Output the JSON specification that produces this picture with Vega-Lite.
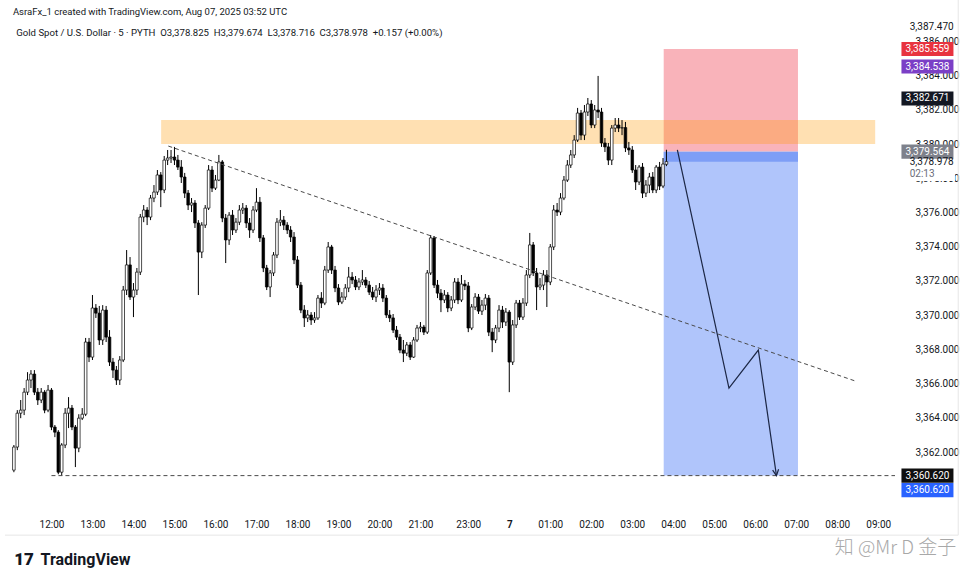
{
  "$schema": "https://vega.github.io/schema/vega-lite/v6.json",
  "width": 900,
  "height": 510,
  "autosize": {"type": "none"},
  "padding": {"left": 0, "top": 0, "right": 72, "bottom": 73},
  "background": "white",
  "config": {"view": {"stroke": null}, "font": "Roboto"},
  "resolve": {"scale": {"fill": "independent", "color": "independent"}},
  "datasets": {
    "zones": [
      {"x": 179.2, "x2": 218.5, "y": 3385.559, "y2": 3379.564, "kind": "stop"},
      {"x": 179.2, "x2": 218.5, "y": 3379.564, "y2": 3360.62, "kind": "target"},
      {"x": 179.2, "x2": 218.5, "y": 3379.564, "y2": 3378.978, "kind": "open"},
      {"x": 32.1, "x2": 241.1, "y": 3381.41, "y2": 3380.01, "kind": "zone"}
    ],
    "candles": [
{"i":-11,"o":3360.94,"h":3362.41,"l":3360.82,"c":3362.29},
{"i":-10,"o":3362.29,"h":3364.45,"l":3362.11,"c":3364.27},
{"i":-9,"o":3364.27,"h":3365.04,"l":3363.98,"c":3364.45},
{"i":-8,"o":3364.45,"h":3365.74,"l":3364.16,"c":3365.50},
{"i":-7,"o":3365.50,"h":3366.67,"l":3365.33,"c":3366.21},
{"i":-6,"o":3366.21,"h":3366.79,"l":3365.74,"c":3366.56},
{"i":-5,"o":3366.56,"h":3366.79,"l":3365.33,"c":3365.50},
{"i":-4,"o":3365.50,"h":3365.74,"l":3364.75,"c":3365.04},
{"i":-3,"o":3365.04,"h":3365.74,"l":3364.86,"c":3365.50},
{"i":-2,"o":3365.50,"h":3365.62,"l":3364.27,"c":3364.45},
{"i":-1,"o":3364.45,"h":3365.92,"l":3364.33,"c":3365.62},
{"i":0,"o":3365.62,"h":3365.74,"l":3363.28,"c":3363.46},
{"i":1,"o":3363.46,"h":3363.58,"l":3362.87,"c":3363.16},
{"i":2,"o":3363.16,"h":3363.28,"l":3360.70,"c":3360.82},
{"i":3,"o":3360.82,"h":3362.52,"l":3360.62,"c":3362.41},
{"i":4,"o":3362.41,"h":3364.57,"l":3362.23,"c":3364.27},
{"i":5,"o":3364.27,"h":3365.21,"l":3363.40,"c":3364.57},
{"i":6,"o":3364.57,"h":3364.75,"l":3363.28,"c":3363.46},
{"i":7,"o":3363.46,"h":3363.58,"l":3361.12,"c":3362.23},
{"i":8,"o":3362.23,"h":3364.21,"l":3361.99,"c":3363.98},
{"i":9,"o":3363.98,"h":3364.57,"l":3363.87,"c":3364.21},
{"i":10,"o":3364.21,"h":3368.67,"l":3364.10,"c":3368.43},
{"i":11,"o":3368.43,"h":3368.67,"l":3367.26,"c":3367.55},
{"i":12,"o":3367.55,"h":3371.18,"l":3367.38,"c":3370.42},
{"i":13,"o":3370.42,"h":3370.65,"l":3369.84,"c":3370.12},
{"i":14,"o":3370.12,"h":3370.54,"l":3368.26,"c":3368.55},
{"i":15,"o":3368.55,"h":3370.59,"l":3368.26,"c":3370.30},
{"i":16,"o":3370.30,"h":3370.54,"l":3368.43,"c":3368.72},
{"i":17,"o":3368.72,"h":3369.13,"l":3367.03,"c":3367.26},
{"i":18,"o":3367.26,"h":3367.50,"l":3366.33,"c":3366.79},
{"i":19,"o":3366.79,"h":3367.03,"l":3365.92,"c":3366.21},
{"i":20,"o":3366.21,"h":3367.61,"l":3365.92,"c":3367.38},
{"i":21,"o":3367.38,"h":3371.71,"l":3367.26,"c":3371.47},
{"i":22,"o":3371.47,"h":3373.81,"l":3371.18,"c":3372.94},
{"i":23,"o":3372.94,"h":3373.40,"l":3370.89,"c":3371.06},
{"i":24,"o":3371.06,"h":3371.88,"l":3369.89,"c":3371.47},
{"i":25,"o":3371.47,"h":3372.76,"l":3371.18,"c":3372.52},
{"i":26,"o":3372.52,"h":3375.92,"l":3372.35,"c":3375.74},
{"i":27,"o":3375.74,"h":3376.44,"l":3375.44,"c":3376.15},
{"i":28,"o":3376.15,"h":3376.32,"l":3375.27,"c":3375.74},
{"i":29,"o":3375.74,"h":3377.03,"l":3375.56,"c":3376.85},
{"i":30,"o":3376.85,"h":3377.61,"l":3376.61,"c":3377.20},
{"i":31,"o":3377.20,"h":3378.49,"l":3377.03,"c":3378.20},
{"i":32,"o":3378.20,"h":3378.37,"l":3376.32,"c":3377.32},
{"i":33,"o":3377.32,"h":3379.31,"l":3377.14,"c":3379.07},
{"i":34,"o":3379.07,"h":3379.66,"l":3378.78,"c":3379.19},
{"i":35,"o":3379.19,"h":3379.66,"l":3378.90,"c":3379.25},
{"i":36,"o":3379.25,"h":3379.84,"l":3378.78,"c":3379.07},
{"i":37,"o":3379.07,"h":3379.37,"l":3378.49,"c":3378.66},
{"i":38,"o":3378.66,"h":3379.07,"l":3377.73,"c":3378.08},
{"i":39,"o":3378.08,"h":3378.32,"l":3376.85,"c":3377.14},
{"i":40,"o":3377.14,"h":3377.32,"l":3376.15,"c":3376.44},
{"i":41,"o":3376.44,"h":3376.85,"l":3376.03,"c":3376.56},
{"i":42,"o":3376.56,"h":3376.73,"l":3375.10,"c":3375.39},
{"i":43,"o":3375.39,"h":3375.56,"l":3371.18,"c":3373.69},
{"i":44,"o":3373.69,"h":3375.44,"l":3373.34,"c":3375.27},
{"i":45,"o":3375.27,"h":3376.44,"l":3375.10,"c":3376.26},
{"i":46,"o":3376.26,"h":3378.78,"l":3376.15,"c":3378.49},
{"i":47,"o":3378.49,"h":3378.72,"l":3377.20,"c":3377.43},
{"i":48,"o":3377.43,"h":3378.20,"l":3377.32,"c":3377.90},
{"i":49,"o":3377.90,"h":3379.37,"l":3377.84,"c":3378.96},
{"i":50,"o":3378.96,"h":3379.07,"l":3375.44,"c":3375.68},
{"i":51,"o":3375.68,"h":3375.92,"l":3373.05,"c":3374.40},
{"i":52,"o":3374.40,"h":3376.03,"l":3374.11,"c":3375.85},
{"i":53,"o":3375.85,"h":3376.15,"l":3374.69,"c":3374.98},
{"i":54,"o":3374.98,"h":3375.68,"l":3374.81,"c":3375.44},
{"i":55,"o":3375.44,"h":3376.44,"l":3375.27,"c":3376.15},
{"i":56,"o":3376.15,"h":3376.56,"l":3375.92,"c":3376.26},
{"i":57,"o":3376.26,"h":3376.44,"l":3375.10,"c":3375.39},
{"i":58,"o":3375.39,"h":3375.68,"l":3374.52,"c":3374.98},
{"i":59,"o":3374.98,"h":3376.38,"l":3374.81,"c":3376.15},
{"i":60,"o":3376.15,"h":3377.43,"l":3376.03,"c":3376.61},
{"i":61,"o":3376.61,"h":3376.91,"l":3374.28,"c":3374.52},
{"i":62,"o":3374.52,"h":3374.69,"l":3372.52,"c":3372.76},
{"i":63,"o":3372.76,"h":3372.94,"l":3371.47,"c":3371.65},
{"i":64,"o":3371.65,"h":3372.64,"l":3371.06,"c":3372.47},
{"i":65,"o":3372.47,"h":3373.69,"l":3372.29,"c":3373.52},
{"i":66,"o":3373.52,"h":3375.68,"l":3373.34,"c":3375.44},
{"i":67,"o":3375.44,"h":3376.15,"l":3375.21,"c":3375.56},
{"i":68,"o":3375.56,"h":3375.80,"l":3374.98,"c":3375.27},
{"i":69,"o":3375.27,"h":3375.44,"l":3374.75,"c":3374.98},
{"i":70,"o":3374.98,"h":3375.21,"l":3374.28,"c":3374.57},
{"i":71,"o":3374.57,"h":3374.86,"l":3372.99,"c":3373.23},
{"i":72,"o":3373.23,"h":3373.46,"l":3371.59,"c":3371.76},
{"i":73,"o":3371.76,"h":3371.94,"l":3370.12,"c":3370.30},
{"i":74,"o":3370.30,"h":3370.59,"l":3369.31,"c":3369.84},
{"i":75,"o":3369.84,"h":3370.30,"l":3369.60,"c":3370.01},
{"i":76,"o":3370.01,"h":3370.18,"l":3369.43,"c":3369.72},
{"i":77,"o":3369.72,"h":3370.18,"l":3369.55,"c":3369.84},
{"i":78,"o":3369.84,"h":3371.18,"l":3369.72,"c":3371.00},
{"i":79,"o":3371.00,"h":3371.35,"l":3370.42,"c":3370.71},
{"i":80,"o":3370.71,"h":3372.88,"l":3370.59,"c":3372.64},
{"i":81,"o":3372.64,"h":3374.28,"l":3372.47,"c":3373.99},
{"i":82,"o":3373.99,"h":3374.11,"l":3372.41,"c":3372.64},
{"i":83,"o":3372.64,"h":3372.88,"l":3371.35,"c":3371.59},
{"i":84,"o":3371.59,"h":3371.82,"l":3370.59,"c":3370.77},
{"i":85,"o":3370.77,"h":3371.35,"l":3370.65,"c":3371.06},
{"i":86,"o":3371.06,"h":3371.82,"l":3370.89,"c":3371.59},
{"i":87,"o":3371.59,"h":3372.82,"l":3371.35,"c":3372.23},
{"i":88,"o":3372.23,"h":3372.52,"l":3371.82,"c":3372.06},
{"i":89,"o":3372.06,"h":3372.29,"l":3371.47,"c":3371.65},
{"i":90,"o":3371.65,"h":3372.17,"l":3371.47,"c":3371.94},
{"i":91,"o":3371.94,"h":3372.64,"l":3371.76,"c":3372.06},
{"i":92,"o":3372.06,"h":3372.23,"l":3371.59,"c":3371.76},
{"i":93,"o":3371.76,"h":3372.00,"l":3371.18,"c":3371.35},
{"i":94,"o":3371.35,"h":3371.65,"l":3370.89,"c":3371.06},
{"i":95,"o":3371.06,"h":3371.76,"l":3370.77,"c":3371.47},
{"i":96,"o":3371.47,"h":3371.88,"l":3371.18,"c":3371.59},
{"i":97,"o":3371.59,"h":3371.82,"l":3370.77,"c":3371.00},
{"i":98,"o":3371.00,"h":3371.18,"l":3369.84,"c":3370.01},
{"i":99,"o":3370.01,"h":3370.30,"l":3369.60,"c":3369.84},
{"i":100,"o":3369.84,"h":3370.07,"l":3368.96,"c":3369.13},
{"i":101,"o":3369.13,"h":3369.37,"l":3368.55,"c":3368.72},
{"i":102,"o":3368.72,"h":3368.90,"l":3367.78,"c":3367.96},
{"i":103,"o":3367.96,"h":3368.55,"l":3367.26,"c":3367.78},
{"i":104,"o":3367.78,"h":3368.43,"l":3367.61,"c":3368.26},
{"i":105,"o":3368.26,"h":3368.43,"l":3367.38,"c":3367.55},
{"i":106,"o":3367.55,"h":3368.72,"l":3367.50,"c":3368.55},
{"i":107,"o":3368.55,"h":3369.43,"l":3368.43,"c":3369.25},
{"i":108,"o":3369.25,"h":3369.60,"l":3369.01,"c":3369.31},
{"i":109,"o":3369.31,"h":3369.43,"l":3368.84,"c":3369.01},
{"i":110,"o":3369.01,"h":3372.64,"l":3368.90,"c":3372.47},
{"i":111,"o":3372.47,"h":3374.69,"l":3372.35,"c":3374.52},
{"i":112,"o":3374.52,"h":3374.63,"l":3371.59,"c":3371.76},
{"i":113,"o":3371.76,"h":3372.06,"l":3371.00,"c":3371.29},
{"i":114,"o":3371.29,"h":3371.53,"l":3370.18,"c":3370.89},
{"i":115,"o":3370.89,"h":3371.47,"l":3370.71,"c":3371.18},
{"i":116,"o":3371.18,"h":3371.35,"l":3370.18,"c":3370.42},
{"i":117,"o":3370.42,"h":3371.12,"l":3370.24,"c":3370.89},
{"i":118,"o":3370.89,"h":3372.17,"l":3370.71,"c":3371.94},
{"i":119,"o":3371.94,"h":3372.17,"l":3370.65,"c":3370.89},
{"i":120,"o":3370.89,"h":3372.35,"l":3370.77,"c":3371.82},
{"i":121,"o":3371.82,"h":3372.06,"l":3371.47,"c":3371.71},
{"i":122,"o":3371.71,"h":3371.94,"l":3369.01,"c":3369.25},
{"i":123,"o":3369.25,"h":3370.65,"l":3369.13,"c":3370.48},
{"i":124,"o":3370.48,"h":3371.29,"l":3370.30,"c":3371.06},
{"i":125,"o":3371.06,"h":3371.24,"l":3370.07,"c":3370.24},
{"i":126,"o":3370.24,"h":3370.89,"l":3370.01,"c":3370.59},
{"i":127,"o":3370.59,"h":3371.24,"l":3370.30,"c":3371.00},
{"i":128,"o":3371.00,"h":3371.18,"l":3368.78,"c":3369.01},
{"i":129,"o":3369.01,"h":3369.25,"l":3367.84,"c":3368.55},
{"i":130,"o":3368.55,"h":3369.43,"l":3368.37,"c":3369.25},
{"i":131,"o":3369.25,"h":3370.59,"l":3369.01,"c":3370.30},
{"i":132,"o":3370.30,"h":3370.54,"l":3369.25,"c":3369.60},
{"i":133,"o":3369.60,"h":3370.42,"l":3369.37,"c":3370.18},
{"i":134,"o":3370.18,"h":3370.30,"l":3365.50,"c":3367.26},
{"i":135,"o":3367.26,"h":3369.72,"l":3367.09,"c":3369.43},
{"i":136,"o":3369.43,"h":3370.89,"l":3369.25,"c":3370.71},
{"i":137,"o":3370.71,"h":3370.89,"l":3369.72,"c":3369.89},
{"i":138,"o":3369.89,"h":3371.00,"l":3369.72,"c":3370.71},
{"i":139,"o":3370.71,"h":3372.64,"l":3370.54,"c":3372.35},
{"i":140,"o":3372.35,"h":3374.81,"l":3372.17,"c":3374.11},
{"i":141,"o":3374.11,"h":3374.28,"l":3372.29,"c":3372.47},
{"i":142,"o":3372.47,"h":3372.76,"l":3370.30,"c":3371.65},
{"i":143,"o":3371.65,"h":3372.17,"l":3371.47,"c":3371.76},
{"i":144,"o":3371.76,"h":3372.64,"l":3371.47,"c":3372.35},
{"i":145,"o":3372.35,"h":3372.64,"l":3370.48,"c":3371.94},
{"i":146,"o":3371.94,"h":3374.16,"l":3371.76,"c":3373.99},
{"i":147,"o":3373.99,"h":3376.44,"l":3373.81,"c":3376.15},
{"i":148,"o":3376.15,"h":3376.56,"l":3375.80,"c":3376.03},
{"i":149,"o":3376.03,"h":3377.14,"l":3375.85,"c":3376.85},
{"i":150,"o":3376.85,"h":3378.14,"l":3376.73,"c":3377.90},
{"i":151,"o":3377.90,"h":3379.07,"l":3377.79,"c":3378.78},
{"i":152,"o":3378.78,"h":3379.66,"l":3378.61,"c":3379.37},
{"i":153,"o":3379.37,"h":3380.53,"l":3379.19,"c":3380.24},
{"i":154,"o":3380.24,"h":3382.12,"l":3380.13,"c":3381.82},
{"i":155,"o":3381.82,"h":3382.00,"l":3380.24,"c":3380.53},
{"i":156,"o":3380.53,"h":3382.29,"l":3380.24,"c":3381.88},
{"i":157,"o":3381.88,"h":3382.70,"l":3381.65,"c":3382.35},
{"i":158,"o":3382.35,"h":3382.58,"l":3380.94,"c":3381.12},
{"i":159,"o":3381.12,"h":3382.29,"l":3380.94,"c":3382.00},
{"i":160,"o":3382.00,"h":3383.99,"l":3381.53,"c":3381.88},
{"i":161,"o":3381.88,"h":3382.12,"l":3379.84,"c":3380.07},
{"i":162,"o":3380.07,"h":3380.36,"l":3379.54,"c":3379.84},
{"i":163,"o":3379.84,"h":3380.07,"l":3378.78,"c":3379.07},
{"i":164,"o":3379.07,"h":3381.12,"l":3378.78,"c":3380.94},
{"i":165,"o":3380.94,"h":3381.53,"l":3380.71,"c":3381.12},
{"i":166,"o":3381.12,"h":3381.53,"l":3380.71,"c":3380.94},
{"i":167,"o":3380.94,"h":3381.41,"l":3380.53,"c":3380.97},
{"i":168,"o":3380.97,"h":3381.30,"l":3379.54,"c":3379.78},
{"i":169,"o":3379.78,"h":3380.13,"l":3379.37,"c":3379.66},
{"i":170,"o":3379.66,"h":3379.89,"l":3378.32,"c":3378.49},
{"i":171,"o":3378.49,"h":3378.78,"l":3377.32,"c":3377.79},
{"i":172,"o":3377.79,"h":3378.78,"l":3377.61,"c":3378.66},
{"i":173,"o":3378.66,"h":3378.90,"l":3376.85,"c":3377.14},
{"i":174,"o":3377.14,"h":3377.90,"l":3376.91,"c":3377.61},
{"i":175,"o":3377.61,"h":3378.32,"l":3377.14,"c":3378.08},
{"i":176,"o":3378.08,"h":3378.37,"l":3377.14,"c":3377.32},
{"i":177,"o":3377.32,"h":3378.78,"l":3377.14,"c":3378.66},
{"i":178,"o":3378.66,"h":3378.96,"l":3377.32,"c":3377.55},
{"i":179,"o":3377.55,"h":3379.19,"l":3377.43,"c":3378.84},
{"i":180,"o":3378.825,"h":3379.674,"l":3378.716,"c":3378.978}
    ],
    "lines": [
      {"x": 34.2, "y": 3379.89, "x2": 235.3, "y2": 3366.15, "kind": "trend"},
      {"x": 0, "y": 3360.62, "x2": 246.9, "y2": 3360.62, "kind": "level"}
    ],
    "frame": [
      {"x": -13.6, "y": 3357.14, "x2": 265.4, "y2": 3357.14},
      {"x": 265.4, "y": 3388.43, "x2": 265.4, "y2": 3357.14}
    ],
    "arrow": [
      {"o": 0, "x": 183.2, "y": 3379.66},
      {"o": 1, "x": 198.3, "y": 3365.74},
      {"o": 2, "x": 206.9, "y": 3367.96},
      {"o": 3, "x": 212.2, "y": 3360.62}
    ],
    "boxes": [
      {"p": 3385.559, "t": "3,385.559", "k": "stop"},
      {"p": 3384.538, "t": "3,384.538", "k": "purple"},
      {"p": 3382.671, "t": "3,382.671", "k": "dark"},
      {"p": 3379.564, "t": "3,379.564", "k": "entry"},
      {"p": 3360.62, "t": "3,360.620", "k": "dark2"}
    ]
  },
  "layer": [
    {
      "data": {"name": "zones"},
      "mark": {"type": "rect"},
      "encoding": {
        "x": {"field": "x", "type": "quantitative", "title": null,
          "scale": {"domain": [-13.6, 246.9], "nice": false, "zero": false},
          "axis": {"values": [0, 12, 24, 36, 48, 60, 72, 84, 96, 108, 122, 134, 146, 158, 170, 182, 194, 206, 218, 230, 242],
            "labelExpr": "['12:00','13:00','14:00','15:00','16:00','17:00','18:00','19:00','20:00','21:00','23:00','7','01:00','02:00','03:00','04:00','05:00','06:00','07:00','08:00','09:00'][indexof([0,12,24,36,48,60,72,84,96,108,122,134,146,158,170,182,194,206,218,230,242], datum.value)]",
            "labelFontWeight": {"expr": "datum.value == 134 ? 'bold' : 'normal'"},
            "ticks": false, "domain": false, "grid": false, "labelFlush": false, "labelOverlap": false,
            "labelPadding": 9, "labelFontSize": 10, "labelColor": "#131722", "labelFont": "Roboto"}},
        "x2": {"field": "x2"},
        "y": {"field": "y", "type": "quantitative", "title": null,
          "scale": {"domain": [3358.61, 3388.43], "nice": false, "zero": false},
          "axis": {"orient": "right", "values": [3362, 3364, 3366, 3368, 3370, 3372, 3374, 3376, 3378, 3380, 3382, 3384, 3386],
            "format": ",.3f", "labelAlign": "left", "labelPadding": 15, "ticks": false, "domain": false, "grid": false,
            "labelFontSize": 10, "labelColor": "#131722", "labelFont": "Roboto", "labelOverlap": false, "labelBound": false}},
        "y2": {"field": "y2"},
        "fill": {"field": "kind", "type": "nominal", "legend": null,
          "scale": {"domain": ["stop", "target", "open", "zone"], "range": ["#F9B3BA", "#B0C5FB", "#7E9EF6", "#FF9800"]}},
        "opacity": {"condition": {"test": "datum.kind == 'zone'", "value": 0.3}, "value": 1}
      }
    },
    {
      "data": {"name": "frame"},
      "mark": {"type": "rule", "color": "#E6E6E6", "strokeWidth": 1},
      "encoding": {
        "x": {"field": "x", "type": "quantitative", "title": null},
        "x2": {"field": "x2"},
        "y": {"field": "y", "type": "quantitative", "title": null},
        "y2": {"field": "y2"}
      }
    },
    {
      "data": {"name": "candles"},
      "mark": {"type": "rule", "color": "#000000", "strokeWidth": 1},
      "encoding": {
        "x": {"field": "i", "type": "quantitative", "title": null},
        "y": {"field": "l", "type": "quantitative", "title": null},
        "y2": {"field": "h"}
      }
    },
    {
      "data": {"name": "candles"},
      "mark": {"type": "bar", "width": 2.6, "stroke": "#000000", "strokeWidth": 0.7},
      "encoding": {
        "x": {"field": "i", "type": "quantitative", "title": null},
        "y": {"field": "o", "type": "quantitative", "title": null},
        "y2": {"field": "c"},
        "fill": {"condition": {"test": "datum.c >= datum.o", "value": "#ffffff"}, "value": "#000000"}
      }
    },
    {
      "data": {"name": "lines"},
      "mark": {"type": "rule", "color": "#4A4A4A", "strokeWidth": 1, "strokeDash": [4, 3]},
      "encoding": {
        "x": {"field": "x", "type": "quantitative", "title": null},
        "x2": {"field": "x2"},
        "y": {"field": "y", "type": "quantitative", "title": null},
        "y2": {"field": "y2"}
      }
    },
    {
      "data": {"name": "arrow"},
      "mark": {"type": "line", "color": "#1C2745", "strokeWidth": 1.2},
      "encoding": {
        "x": {"field": "x", "type": "quantitative", "title": null},
        "y": {"field": "y", "type": "quantitative", "title": null},
        "order": {"field": "o"}
      }
    },
    {
      "data": {"name": "arrow"},
      "transform": [{"filter": "datum.o == 3"}],
      "mark": {"type": "point", "shape": "M-0.5,-1L0,0L0.5,-1", "filled": false, "size": 144, "angle": -8, "stroke": "#1C2745", "strokeWidth": 1.2, "opacity": 1},
      "encoding": {
        "x": {"field": "x", "type": "quantitative", "title": null},
        "y": {"field": "y", "type": "quantitative", "title": null}
      }
    },
    {
      "data": {"values": [{"p": 3378.58}]},
      "mark": {"type": "point", "shape": "M-1,-0.4545H1V0.4545H-1Z", "filled": true, "size": 3025, "opacity": 1, "strokeWidth": 0, "color": "#ffffff"},
      "encoding": {
        "x": {"datum": 256.4, "type": "quantitative"},
        "y": {"field": "p", "type": "quantitative", "title": null}
      }
    },
    {
      "data": {"name": "boxes"},
      "mark": {"type": "point", "shape": "M-1,-0.27H1V0.27H-1Z", "filled": true, "size": 2704, "opacity": 1, "strokeWidth": 0},
      "encoding": {
        "x": {"datum": 256.4, "type": "quantitative"},
        "y": {"field": "p", "type": "quantitative", "title": null},
        "fill": {"field": "k", "type": "nominal", "legend": null,
          "scale": {"domain": ["stop", "purple", "dark", "entry", "dark2"], "range": ["#E8333F", "#7B3FC6", "#131722", "#7E818B", "#0F0F0F"]}}
      }
    },
    {
      "data": {"name": "boxes"},
      "mark": {"type": "text", "color": "#ffffff", "fontSize": 10, "font": "Roboto", "align": "center", "baseline": "middle"},
      "encoding": {
        "x": {"datum": 256.4, "type": "quantitative"},
        "y": {"field": "p", "type": "quantitative", "title": null},
        "text": {"field": "t"}
      }
    },
    {
      "data": {"values": [{"p": 3360.62, "t": "3,360.620"}]},
      "layer": [
        {
          "mark": {"type": "point", "shape": "M-1,-0.27H1V0.27H-1Z", "filled": true, "size": 2704, "opacity": 1, "strokeWidth": 0, "color": "#2962FF", "yOffset": 14.5},
          "encoding": {
            "x": {"datum": 256.4, "type": "quantitative"},
            "y": {"field": "p", "type": "quantitative", "title": null}
          }
        },
        {
          "mark": {"type": "text", "color": "#ffffff", "fontSize": 10, "font": "Roboto", "align": "center", "baseline": "middle", "dy": 14.5},
          "encoding": {
            "x": {"datum": 256.4, "type": "quantitative"},
            "y": {"field": "p", "type": "quantitative", "title": null},
            "text": {"field": "t"}
          }
        }
      ]
    },
    {
      "data": {"values": [
        {"x": 251.2, "y": 3386.85, "t": "3,387.470"},
        {"x": 251.2, "y": 3378.978, "t": "3,378.978"}
      ]},
      "mark": {"type": "text", "fontSize": 10, "font": "Roboto", "align": "left", "baseline": "middle", "color": "#131722"},
      "encoding": {
        "x": {"field": "x", "type": "quantitative", "title": null},
        "y": {"field": "y", "type": "quantitative", "title": null},
        "text": {"field": "t"}
      }
    },
    {
      "data": {"values": [
        {"x": 251.2, "y": 3378.28, "t": "02:13"}
      ]},
      "mark": {"type": "text", "fontSize": 10, "font": "Roboto", "align": "left", "baseline": "middle", "color": "#6A6D78"},
      "encoding": {
        "x": {"field": "x", "type": "quantitative", "title": null},
        "y": {"field": "y", "type": "quantitative", "title": null},
        "text": {"field": "t"}
      }
    },
    {
      "data": {"values": [
        {"x": -11.28, "y": 3387.73, "t": "AsraFx_1 created with TradingView.com, Aug 07, 2025 03:52 UTC"}
      ]},
      "mark": {"type": "text", "fontSize": 9.5, "font": "Roboto", "align": "left", "baseline": "middle", "color": "#131722"},
      "encoding": {
        "x": {"field": "x", "type": "quantitative", "title": null},
        "y": {"field": "y", "type": "quantitative", "title": null},
        "text": {"field": "t"}
      }
    },
    {
      "data": {"values": [
        {"x": -10.3, "y": 3386.50, "t": "Gold Spot / U.S. Dollar · 5 · PYTH\u00a0\u00a0O3,378.825\u00a0\u00a0H3,379.674\u00a0\u00a0L3,378.716\u00a0\u00a0C3,378.978\u00a0\u00a0+0.157 (+0.00%)"}
      ]},
      "mark": {"type": "text", "fontSize": 9.6, "font": "Roboto", "align": "left", "baseline": "middle", "color": "#131722"},
      "encoding": {
        "x": {"field": "x", "type": "quantitative", "title": null},
        "y": {"field": "y", "type": "quantitative", "title": null},
        "text": {"field": "t"}
      }
    },
    {
      "data": {"values": [
        {"x": -10.9, "y": 3355.68, "t": "17"}
      ]},
      "mark": {"type": "text", "fontSize": 17, "font": "Roboto", "fontWeight": 900, "align": "left", "baseline": "middle", "color": "#131722"},
      "encoding": {
        "x": {"field": "x", "type": "quantitative", "title": null},
        "y": {"field": "y", "type": "quantitative", "title": null},
        "text": {"field": "t"}
      }
    },
    {
      "data": {"values": [
        {"x": -3.2, "y": 3355.68, "t": "TradingView"}
      ]},
      "mark": {"type": "text", "fontSize": 16, "font": "Roboto", "fontWeight": "bold", "align": "left", "baseline": "middle", "color": "#131722"},
      "encoding": {
        "x": {"field": "x", "type": "quantitative", "title": null},
        "y": {"field": "y", "type": "quantitative", "title": null},
        "text": {"field": "t"}
      }
    },
    {
      "data": {"values": [
        {"x": 264.8, "y": 3356.38, "t": "知 @Mr D 金子"}
      ]},
      "mark": {"type": "text", "fontSize": 19, "font": "Noto Sans CJK SC", "fontWeight": 300, "align": "right", "baseline": "middle", "color": "#A8A8A8"},
      "encoding": {
        "x": {"field": "x", "type": "quantitative", "title": null},
        "y": {"field": "y", "type": "quantitative", "title": null},
        "text": {"field": "t"}
      }
    }
  ]
}
